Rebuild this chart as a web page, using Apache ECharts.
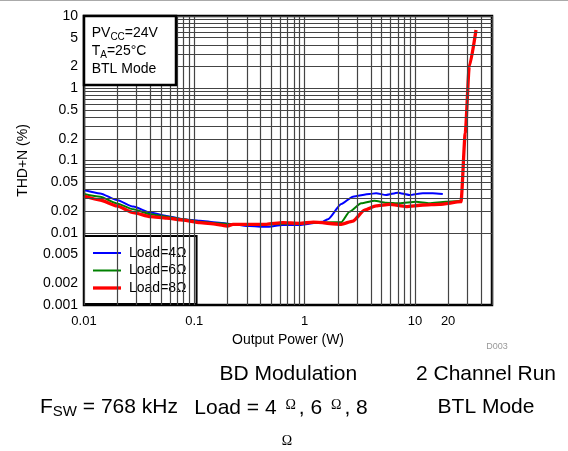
<!DOCTYPE html>
<html>
<head>
<meta charset="utf-8">
<script src="https://cdn.jsdelivr.net/npm/echarts@6/dist/echarts.min.js"></script>
<style>
  html, body { margin: 0; padding: 0; background: #fff; }
  #chart { width: 568px; height: 451px; }
</style>
</head>
<body>
<div id="chart"></div>
<script>
// font
var ff = '"Liberation Sans", Arial, Helvetica, sans-serif'

// tick labels
var xTicks = [0.01, 0.1, 1, 10, 20]
var yTicks = [0.001, 0.002, 0.005, 0.01, 0.02, 0.05, 0.1, 0.2, 0.5, 1, 2, 5, 10]

// Load = 4 ohm
var p4 = [0.01, 0.014, 0.0198, 0.028, 0.04, 0.056, 0.079, 0.112, 0.158, 0.224, 0.317, 0.448, 0.634, 0.9, 1.0, 1.46, 1.63, 2.15, 2.74, 3.87, 4.45, 5.48, 6.99, 8.91, 11.8, 14.5, 17.9]
var thd4 = [0.039, 0.035, 0.0284, 0.023, 0.019, 0.0171, 0.0154, 0.0147, 0.0139, 0.0131, 0.0124, 0.0121, 0.0128, 0.0128, 0.013, 0.0142, 0.0154, 0.025, 0.0316, 0.0344, 0.0352, 0.0333, 0.0359, 0.0333, 0.0352, 0.0352, 0.0344]
// Load = 6 ohm
var p6 = [0.01, 0.014, 0.0198, 0.028, 0.04, 0.056, 0.079, 0.112, 0.158, 0.224, 0.4, 0.8, 1.5, 2.15, 2.55, 3.26, 4.3, 5.48, 7.24, 10.25, 13.5, 19.1, 26.2]
var thd6 = [0.0344, 0.0316, 0.0255, 0.0211, 0.018, 0.0167, 0.0154, 0.0142, 0.0135, 0.0131, 0.013, 0.0135, 0.0139, 0.014, 0.0196, 0.0256, 0.0278, 0.0261, 0.0256, 0.0269, 0.0256, 0.0269, 0.0278]
// Load = 8 ohm
var p8 = [0.01, 0.014, 0.0198, 0.028, 0.04, 0.056, 0.079, 0.112, 0.158, 0.2, 0.224, 0.3, 0.45, 0.634, 0.9, 1.2, 2.15, 2.74, 3.49, 4.45, 5.88, 8.32, 11.8, 16.7, 26.2, 28.6, 31.1, 35.8]
var thd8 = [0.0323, 0.0284, 0.0235, 0.019, 0.0167, 0.0159, 0.015, 0.0138, 0.0131, 0.0124, 0.0131, 0.0131, 0.0131, 0.0138, 0.0135, 0.014, 0.0131, 0.0145, 0.0206, 0.0235, 0.0247, 0.023, 0.0242, 0.0247, 0.0269, 0.24, 2.0, 6.4]

var names = ['Load=4Ω', 'Load=6Ω', 'Load=8Ω']

// log grid lines (1..9 in each decade)
function logLines(lo, hi) {
    var out = []
    for (var d = lo; d < hi * 0.999; d *= 10) {
        for (var m = 1; m <= 9; m++) {
            var v = +(d * m).toPrecision(3)
            if (v <= hi * 1.0001) out.push(v)
        }
    }
    if (out[out.length - 1] < hi) out.push(hi)
    return out
}
var gridLines = []
logLines(0.01, 50).forEach(v => gridLines.push({ xAxis: v }))
logLines(0.001, 10).forEach(v => gridLines.push({ yAxis: v }))

function pairs(xs, ys) {
    return xs.map((x, i) => [x, ys[i]])
}

function curve(name, color, width, xs, ys) {
    return {
        name: name,
        type: 'line',
        symbol: 'none',
        smooth: 0.2,
        smoothMonotone: 'x',
        z: 3,
        color: color,
        lineStyle: { width: width, color: color },
        data: pairs(xs, ys)
    }
}

var option = {
    animation: false,
    textStyle: { fontFamily: ff },
    grid: {
        left: 84,
        top: 16,
        right: 76,
        bottom: 146,
        show: true,
        borderColor: '#000',
        borderWidth: 2.5,
        backgroundColor: '#fff'
    },
    legend: {
        data: [
            { name: names[0], icon: 'path://M0,0H28V2H0Z' },
            { name: names[1], icon: 'path://M0,0H28V2H0Z' },
            { name: names[2], icon: 'path://M0,0H28V3.3H0Z' }
        ],
        orient: 'vertical',
        left: 84,
        top: 236,
        padding: [10, 10, 9, 9],
        itemWidth: 28,
        itemHeight: 14,
        itemGap: 3.5,
        symbolKeepAspect: true,
        backgroundColor: '#fff',
        borderColor: '#000',
        borderWidth: 2,
        borderRadius: 0,
        textStyle: { fontFamily: ff, fontSize: 14, color: '#000', padding: [0, 0, 0, 3] }
    },
    xAxis: {
        type: 'log',
        logBase: 10,
        min: 0.01,
        max: 50,
        name: 'Output Power (W)',
        nameLocation: 'middle',
        nameGap: 27,
        nameTextStyle: { fontFamily: ff, fontSize: 14, color: '#000' },
        axisLine: { show: false },
        axisTick: { show: false },
        splitLine: { show: false },
        axisLabel: {
            customValues: xTicks,
            color: '#000',
            fontFamily: ff,
            fontSize: 13,
            margin: 10,
            formatter: v => String(v)
        }
    },
    yAxis: {
        type: 'log',
        logBase: 10,
        min: 0.001,
        max: 10,
        name: 'THD+N (%)',
        nameLocation: 'middle',
        nameGap: 54,
        nameTextStyle: { fontFamily: ff, fontSize: 14, color: '#000' },
        axisLine: { show: false },
        axisTick: { show: false },
        splitLine: { show: false },
        axisLabel: {
            customValues: yTicks,
            color: '#000',
            fontFamily: ff,
            fontSize: 14,
            margin: 6,
            formatter: v => String(v)
        }
    },
    series: [
        {
            name: 'grid',
            type: 'line',
            data: [],
            z: 1,
            silent: true,
            markLine: {
                silent: true,
                symbol: ['none', 'none'],
                label: { show: false },
                lineStyle: { color: '#444', width: 1.2, type: 'solid' },
                emphasis: { disabled: true },
                data: gridLines
            }
        },
        curve(names[0], '#0000ff', 2, p4, thd4),
        curve(names[1], '#008000', 2, p6, thd6),
        curve(names[2], '#ff0000', 3.3, p8, thd8)
    ],
    graphic: [
        // thin rule at the top of the page
        {
            type: 'line',
            shape: { x1: 0, y1: 0.5, x2: 568, y2: 0.5 },
            style: { stroke: '#aaa', lineWidth: 1 }
        },
        // conditions box
        {
            type: 'rect',
            z: 10,
            shape: { x: 84, y: 16, width: 92, height: 69 },
            style: { fill: '#fff', stroke: '#000', lineWidth: 2.5 }
        },
        {
            type: 'text',
            z: 11,
            x: 91.7,
            y: 24.5,
            style: {
                text: '{a|PV}{s|CC}{a|=24V}\n{a|T}{s|A}{a|=25°C}\n{a|BTL Mode}',
                fill: '#000',
                rich: {
                    a: { fontFamily: ff, fontSize: 14, lineHeight: 17.7, fill: '#000' },
                    s: { fontFamily: ff, fontSize: 10, lineHeight: 10, verticalAlign: 'bottom', fill: '#000' }
                }
            }
        },
        {
            type: 'text',
            x: 497,
            y: 347,
            style: { text: 'D003', fontFamily: ff, fontSize: 9, fill: '#999', align: 'center', verticalAlign: 'middle' }
        },
        // notes under the chart
        {
            type: 'text',
            x: 288.3,
            y: 374.5,
            style: { text: 'BD Modulation', fontFamily: ff, fontSize: 21, fill: '#000', align: 'center', verticalAlign: 'middle' }
        },
        {
            type: 'text',
            x: 486,
            y: 374.5,
            style: { text: '2 Channel Run', fontFamily: ff, fontSize: 21, fill: '#000', align: 'center', verticalAlign: 'middle' }
        },
        {
            type: 'text',
            x: 40,
            y: 407,
            style: {
                text: '{a|F}{s|SW}{a| = 768 kHz}',
                align: 'left',
                verticalAlign: 'middle',
                rich: {
                    a: { fontFamily: ff, fontSize: 21, lineHeight: 24, fill: '#000' },
                    s: { fontFamily: ff, fontSize: 15, lineHeight: 15, verticalAlign: 'bottom', fill: '#000' }
                }
            }
        },
        {
            type: 'text',
            x: 194.3,
            y: 408,
            style: {
                text: '{a|Load = 4 }{o|Ω}{a|, 6 }{o|Ω}{a|, 8}',
                align: 'left',
                verticalAlign: 'middle',
                rich: {
                    a: { fontFamily: ff, fontSize: 21, lineHeight: 24, fill: '#000' },
                    o: { fontFamily: '"Liberation Serif", "DejaVu Serif", serif', fontSize: 14, lineHeight: 14, verticalAlign: 'top', padding: [2, 3, 0, 3], fill: '#000' }
                }
            }
        },
        {
            type: 'text',
            x: 486,
            y: 407,
            style: { text: 'BTL Mode', fontFamily: ff, fontSize: 21, fill: '#000', align: 'center', verticalAlign: 'middle' }
        },
        {
            type: 'text',
            x: 287,
            y: 441,
            style: { text: 'Ω', fontFamily: '"Liberation Serif", "DejaVu Serif", serif', fontSize: 14, fill: '#000', align: 'center', verticalAlign: 'middle' }
        }
    ]
}

var chart = echarts.init(document.getElementById('chart'), null, { renderer: 'canvas' })
chart.setOption(option)
</script>
</body>
</html>
